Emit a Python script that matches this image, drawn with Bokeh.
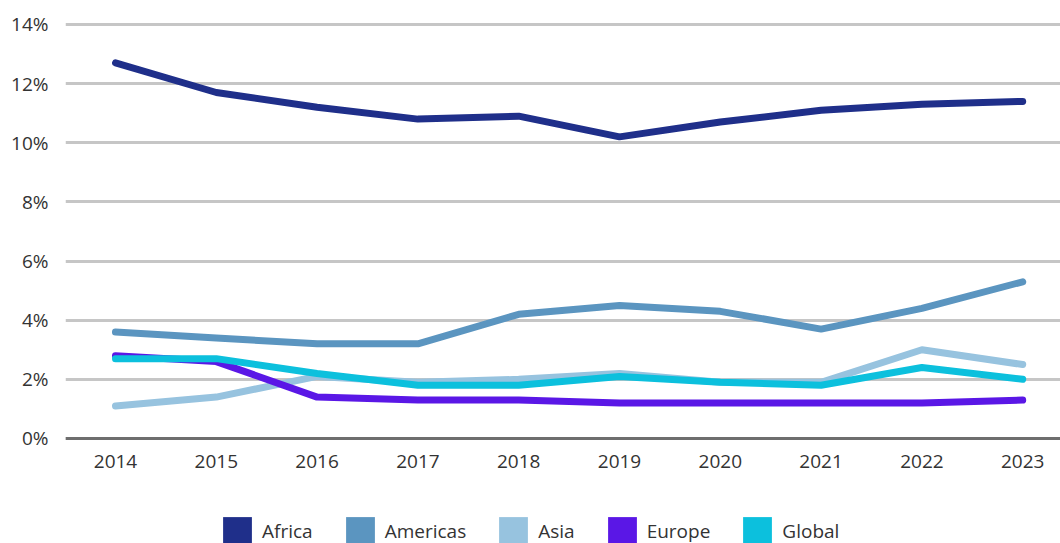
from bokeh.plotting import figure
from bokeh.layouts import column
from bokeh.models import (ColumnDataSource, Legend, LegendItem, FixedTicker,
                          PrintfTickFormatter, Span, Range1d)
from bokeh.embed import file_html
from bokeh.resources import INLINE

years = [2014, 2015, 2016, 2017, 2018, 2019, 2020, 2021, 2022, 2023]
africa = [12.7, 11.7, 11.2, 10.8, 10.9, 10.2, 10.7, 11.1, 11.3, 11.4]
americas = [3.6, 3.4, 3.2, 3.2, 4.2, 4.5, 4.3, 3.7, 4.4, 5.3]
asia = [1.1, 1.4, 2.1, 1.9, 2.0, 2.2, 1.9, 1.9, 3.0, 2.5]
europe = [2.8, 2.6, 1.4, 1.3, 1.3, 1.2, 1.2, 1.2, 1.2, 1.3]
global_ = [2.7, 2.7, 2.2, 1.8, 1.8, 2.1, 1.9, 1.8, 2.4, 2.0]
y_ticks = [0, 2, 4, 6, 8, 10, 12, 14]

series = [
    ("Africa", africa, "#1f2f8a"),
    ("Americas", americas, "#5b95c0"),
    ("Asia", asia, "#97c3df"),
    ("Europe", europe, "#5a17e6"),
    ("Global", global_, "#0cc0dd"),
]

FONT = "Open Sans"
TXT = "#333333"

p = figure(width=1060, height=490, output_backend="svg", toolbar_location=None,
           x_range=Range1d(2013.504, 2023.375), y_range=Range1d(-0.068, 14.135),
           min_border_left=65, min_border_right=0, min_border_top=20,
           min_border_bottom=50,
           background_fill_color="white", border_fill_color="white")
p.outline_line_color = None

p.xgrid.grid_line_color = None
p.ygrid.grid_line_color = "#c6c6c6"
p.ygrid.grid_line_width = 3
p.ygrid.ticker = FixedTicker(ticks=y_ticks)

p.yaxis.ticker = FixedTicker(ticks=y_ticks)
p.yaxis.formatter = PrintfTickFormatter(format="%d%%")
p.xaxis.ticker = FixedTicker(ticks=years)
for ax in (p.xaxis, p.yaxis):
    ax.axis_line_color = None
    ax.major_tick_line_color = None
    ax.minor_tick_line_color = None
    ax.major_tick_out = 0
    ax.major_tick_in = 0
    ax.major_label_text_font = FONT
    ax.major_label_text_font_size = "19px"
    ax.major_label_text_color = TXT
p.yaxis.major_label_standoff = 17
p.xaxis.major_label_standoff = 14

zero = Span(location=0, dimension="width", line_color="#6e6e6e", line_width=3)
p.add_layout(zero)

for name, vals, color in series:
    src = ColumnDataSource(dict(x=years, y=vals))
    p.line("x", "y", source=src, line_color=color, line_width=7,
           line_cap="round", line_join="round")

# legend strip
lf = figure(width=1060, height=53, output_backend="svg", toolbar_location=None,
            x_axis_type=None, y_axis_type=None,
            x_range=Range1d(0, 1), y_range=Range1d(0, 1),
            min_border=0, min_border_left=0, min_border_right=0,
            min_border_top=0, min_border_bottom=0,
            background_fill_color="white", border_fill_color="white")
lf.outline_line_color = None
lf.xgrid.visible = False
lf.ygrid.visible = False

items = []
for name, vals, color in series:
    # zero-size, off-view quad: only used as the legend swatch
    dummy = lf.quad(left=[-5], right=[-5], top=[-5], bottom=[-5],
                    fill_color=color, line_color=None)
    items.append(LegendItem(label=name, renderers=[dummy]))

legend = Legend(items=items, orientation="horizontal", location=(154, -6),
                glyph_width=36, glyph_height=36, label_standoff=7, spacing=29,
                padding=0, margin=0, border_line_color=None,
                background_fill_alpha=0,
                label_text_font=FONT, label_text_font_size="19px",
                label_text_color=TXT)
lf.add_layout(legend, "center")

layout = column(p, lf, spacing=0)
open("out.html", "w").write(file_html(layout, INLINE))
